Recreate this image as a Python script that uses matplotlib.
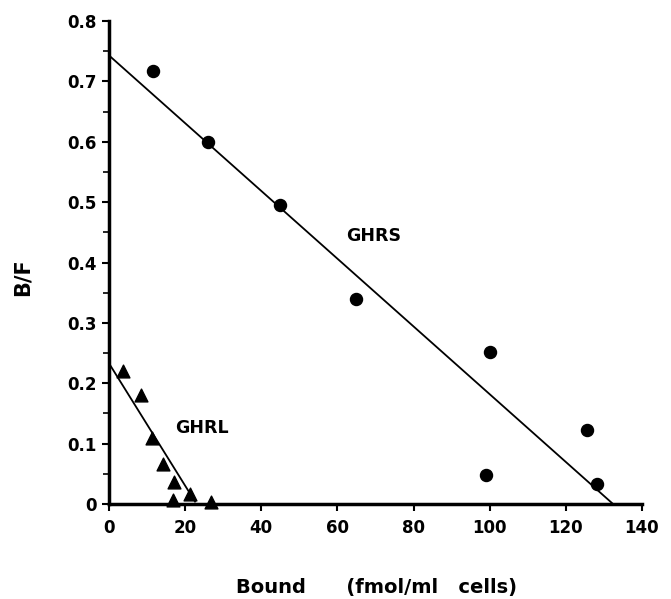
import matplotlib
matplotlib.use("Agg")
import matplotlib.pyplot as plt
import numpy as np

# GHRS (circles)
ghrs_bound = [11.5, 26, 45, 65, 100, 98.9, 125.5, 128.2]
ghrs_bf = [0.717, 0.600, 0.495, 0.340, 0.252, 0.048, 0.122, 0.033]
ghrs_line_x = [0, 132.4]
ghrs_line_y = [0.743, 0.0]

# GHRL (triangles)
ghrl_bound = [3.8, 8.5, 11.2, 14.3, 17.1, 16.8, 21.4, 26.7]
ghrl_bf = [0.220, 0.180, 0.110, 0.066, 0.037, 0.006, 0.016, 0.003]
ghrl_line_x = [0, 22.6]
ghrl_line_y = [0.233, 0.004]

xticks = [0, 20, 40, 60, 80, 100, 120, 140]
yticks = [0, 0.1, 0.2, 0.3, 0.4, 0.5, 0.6, 0.7, 0.8]
ytick_labels = ["0", "0.1", "0.2", "0.3", "0.4", "0.5", "0.6", "0.7", "0.8"]

plt.rcParams['font.family'] = ['DejaVu Sans']
plt.rcParams['font.weight'] = 'bold'

fig = plt.figure(figsize=(6.71, 5.99), dpi=100)
ax = fig.add_axes([109/671, 1 - 504/599, (642-109)/671, (504-21)/599])

ax.plot(ghrs_line_x, ghrs_line_y, color='black', lw=1.3)
ax.plot(ghrl_line_x, ghrl_line_y, color='black', lw=1.3)
ax.scatter(ghrs_bound, ghrs_bf, marker='o', s=75, color='black', zorder=3, clip_on=False)
ax.scatter(ghrl_bound, ghrl_bf, marker='^', s=85, color='black', zorder=3, clip_on=False)

ax.set_xlim(0, 140)
ax.set_ylim(0, 0.8)
for s in ['top', 'right']:
    ax.spines[s].set_visible(False)
for s in ['left', 'bottom']:
    ax.spines[s].set_linewidth(2.5)

ax.set_xticks(xticks)
ax.set_xticklabels([str(v) for v in xticks])
ax.set_yticks(yticks)
ax.set_yticklabels(ytick_labels)
ax.set_yticks(np.arange(0.05, 0.8, 0.1), minor=True)
ax.tick_params(axis='both', which='major', direction='out', length=5, width=1.5, labelsize=12)
ax.tick_params(axis='x', which='major', pad=6)
ax.tick_params(axis='y', which='major', pad=4)
ax.tick_params(axis='y', which='minor', direction='out', length=4, width=1.2)
for lbl in ax.get_xticklabels() + ax.get_yticklabels():
    lbl.set_fontweight('bold')

ax.text(69.6, 0.444, "GHRS", fontsize=12.5, fontweight='bold', ha='center', va='center')
ax.text(24.3, 0.126, "GHRL", fontsize=12.5, fontweight='bold', ha='center', va='center')

fig.text(23/671, 1 - 277/599, "B/F", rotation=90, fontsize=15, fontweight='bold', ha='center', va='center')
fig.text(376/671, 1 - 587/599, "Bound      (fmol/ml   cells)", fontsize=14, fontweight='bold', ha='center', va='center')

fig.savefig("out.png", dpi=100)
